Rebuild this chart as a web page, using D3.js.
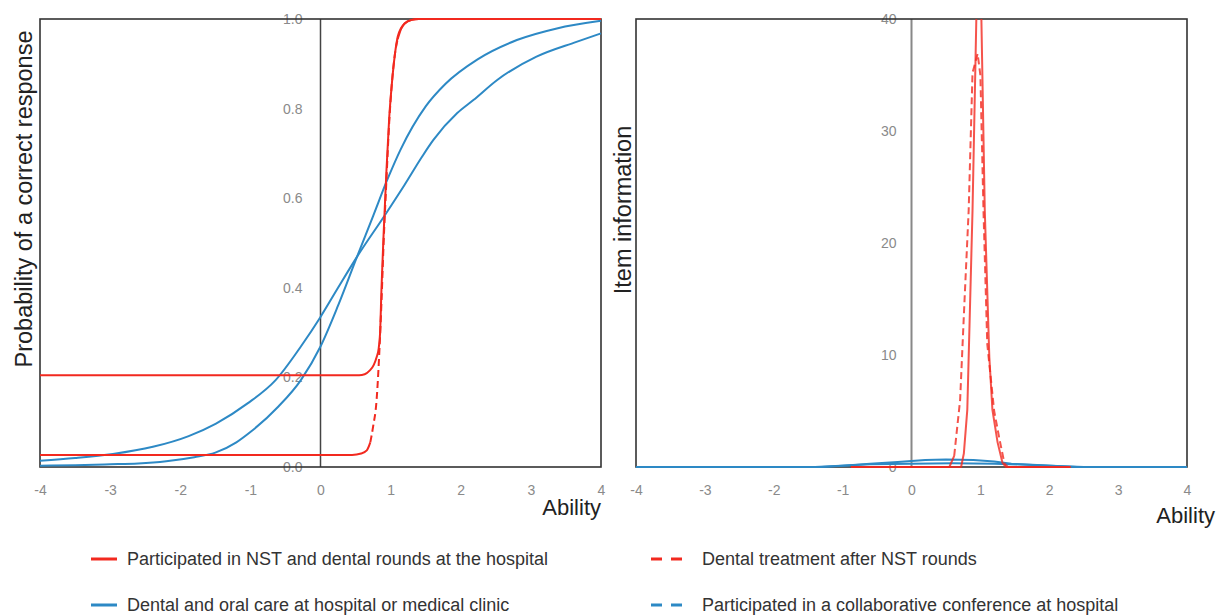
<!DOCTYPE html>
<html><head><meta charset="utf-8">
<script src="https://cdn.jsdelivr.net/npm/d3@7"></script>
<style>
html,body{margin:0;padding:0;background:#fff;}
svg{display:block;font-family:"Liberation Sans",Arial,Helvetica,sans-serif;}
</style></head><body>
<script>
// ---------------- data ----------------
const abilityTicks = [-4, -3, -2, -1, 0, 1, 2, 3, 4];
const probTicks = [0, 0.2, 0.4, 0.6, 0.8, 1.0];
const infoTicks = [0, 10, 20, 30, 40];
const seriesNames = [
  "Participated in NST and dental rounds at the hospital",
  "Dental treatment after NST rounds",
  "Dental and oral care at hospital or medical clinic",
  "Participated in a collaborative conference at hospital"
];

// Left panel: probability of a correct response (ICC)
const iccAbilityNST = [-4, 0.55, 0.63, 0.7, 0.76, 0.8, 0.83, 0.85, 0.87, 0.9, 0.94, 0.98, 1.02, 1.06, 1.1, 1.15, 1.2, 1.3, 1.4, 4];
const iccProbNST    = [0.205, 0.205, 0.207, 0.215, 0.228, 0.245, 0.265, 0.30, 0.40, 0.52, 0.66, 0.78, 0.86, 0.92, 0.96, 0.98, 0.99, 0.998, 1.0, 1.0];

const iccAbilityTreat = [-4, 0.45, 0.58, 0.66, 0.71, 0.75, 0.8, 0.84, 0.87, 0.9, 0.94, 0.98, 1.02, 1.06, 1.1, 1.15, 1.2, 1.3, 1.4, 4];
const iccProbTreat    = [0.027, 0.027, 0.03, 0.037, 0.055, 0.09, 0.15, 0.26, 0.37, 0.50, 0.64, 0.77, 0.86, 0.92, 0.955, 0.978, 0.99, 0.998, 1.0, 1.0];

const iccAbilityCare = [-4, -3.5, -3, -2.6, -2.2, -1.8, -1.5, -1.2, -1.0, -0.6, -0.28, 0, 0.25, 0.52, 0.75, 0.96, 1.14, 1.5, 1.78, 2.24, 2.8, 3.37, 4];
const iccProbCare    = [0.003, 0.004, 0.006, 0.008, 0.013, 0.022, 0.032, 0.055, 0.078, 0.135, 0.194, 0.269, 0.36, 0.469, 0.56, 0.644, 0.708, 0.805, 0.855, 0.91, 0.953, 0.979, 0.996];

const iccAbilityConf = [-4, -3.5, -2.96, -2.39, -1.88, -1.49, -1.04, -0.64, -0.28, 0, 0.25, 0.52, 0.92, 1.2, 1.45, 1.61, 1.95, 2.18, 2.52, 3.08, 3.65, 4];
const iccProbConf    = [0.014, 0.02, 0.029, 0.045, 0.069, 0.097, 0.142, 0.194, 0.269, 0.335, 0.40, 0.469, 0.5625, 0.63, 0.693, 0.73, 0.79, 0.819, 0.864, 0.916, 0.949, 0.968];

// Right panel: item information (IIF)
const iifAbilityNST = [-0.88, 0.72, 0.76, 0.81, 0.886, 0.98, 1.064, 1.13, 1.175, 1.25, 1.32, 1.37, 2.31];
const iifInfoNST    = [0, 0, 1.2, 5.1, 22.9, 52, 22.9, 9.8, 5.1, 2.2, 0.4, 0, 0];

const iifAbilityTreat = [-0.88, 0.55, 0.62, 0.706, 0.77, 0.83, 0.886, 0.96, 1.0, 1.045, 1.1, 1.2, 1.28, 1.35, 1.4, 2.31];
const iifInfoTreat    = [0, 0, 1.0, 6, 14.9, 22.9, 35.2, 36.9, 35, 22.9, 11, 5, 2.4, 0.3, 0, 0];

const iifAbilityCare = [-4, -1.3, -1.0, -0.6, -0.2, 0.2, 0.5, 0.9, 1.2, 1.45, 1.9, 2.4, 4];
const iifInfoCare    = [0, 0, 0.12, 0.3, 0.45, 0.62, 0.66, 0.62, 0.5, 0.3, 0.15, 0, 0];

const iifAbilityConf = [-4, -1.4, -1.1, -0.6, 0, 0.6, 1.2, 1.6, 2.0, 2.5, 4];
const iifInfoConf    = [0, 0, 0.1, 0.25, 0.3, 0.33, 0.3, 0.22, 0.12, 0, 0];

// ---------------- styles ----------------
const RED = "#f2291f", BLUE = "#2d89c5";
const seriesStyle = [
  {color: RED, dashed: false},
  {color: RED, dashed: true},
  {color: BLUE, dashed: false},
  {color: BLUE, dashed: true}
];

const W = 1217, H = 616, TOP = 19, BOTTOM = 467;
const svg = d3.select("body").append("svg").attr("width", W).attr("height", H);
svg.append("rect").attr("width", W).attr("height", H).attr("fill", "#fff");

function drawSeries(g, xs, ys, xS, yS, style, opacity, curve) {
  const pts = xs.map((a, i) => [xS(a), yS(ys[i])]);
  const line = d3.line().curve(curve);
  const common = p => p.attr("fill", "none").attr("stroke", style.color)
      .attr("stroke-width", 2).attr("stroke-opacity", opacity)
      .attr("stroke-linejoin", "round").attr("stroke-linecap", "butt");
  if (!style.dashed) { common(g.append("path").attr("d", line(pts))); return; }
  // dashed strokes only become visible on steep stretches (as in the source renderer)
  const runs = [];
  let cur = [pts[0]], curSteep = null;
  for (let i = 1; i < pts.length; i++) {
    const dx = Math.abs(pts[i][0] - pts[i - 1][0]), dy = Math.abs(pts[i][1] - pts[i - 1][1]);
    const steep = dy > 3 * dx;
    if (curSteep === null) curSteep = steep;
    if (steep !== curSteep) { runs.push({pts: cur, steep: curSteep}); cur = [pts[i - 1]]; curSteep = steep; }
    cur.push(pts[i]);
  }
  runs.push({pts: cur, steep: curSteep});
  runs.forEach(r => {
    const p = common(g.append("path").attr("d", line(r.pts)));
    if (r.steep) p.attr("stroke-dasharray", "7,4");
  });
}

function panel(cfg) {
  const x = d3.scaleLinear().domain([-4, 4]).range([cfg.left, cfg.right]);
  const y = d3.scaleLinear().domain(cfg.yDomain).range([BOTTOM, TOP]);
  const g = svg.append("g");

  // vertical line at ability 0
  g.append("line").attr("x1", x(0)).attr("x2", x(0)).attr("y1", TOP).attr("y2", BOTTOM)
    .attr("stroke", cfg.zeroColor).attr("stroke-width", cfg.zeroWidth);

  // y axis labels at ability 0
  const ya = g.append("g").attr("transform", `translate(${x(0)},0)`)
    .call(d3.axisLeft(y).tickValues(cfg.yTicks).tickSize(0).tickPadding(cfg.yPad).tickFormat(cfg.yFormat));
  ya.select(".domain").remove();
  ya.selectAll("text").attr("fill", "#8a8a8a").attr("font-size", 14).attr("font-family", "Liberation Sans, Arial, sans-serif");

  // x axis labels
  const xa = g.append("g").attr("transform", `translate(0,${BOTTOM})`)
    .call(d3.axisBottom(x).tickValues(abilityTicks).tickSize(0).tickFormat(d => String(d)));
  xa.select(".domain").remove();
  xa.selectAll("text").attr("y", 23).attr("dy", "0.35em").attr("fill", "#8a8a8a")
    .attr("font-size", 14).attr("font-family", "Liberation Sans, Arial, sans-serif");

  // frame
  g.append("rect").attr("x", cfg.left).attr("y", TOP).attr("width", cfg.right - cfg.left)
    .attr("height", BOTTOM - TOP).attr("fill", "none").attr("stroke", "#333").attr("stroke-width", 1.6);

  // clip
  const id = "clip" + cfg.name;
  svg.append("clipPath").attr("id", id).append("rect")
    .attr("x", cfg.left - 2).attr("y", cfg.clipTop).attr("width", cfg.right - cfg.left + 4)
    .attr("height", BOTTOM - cfg.clipTop + 3);
  const lg = g.append("g").attr("clip-path", `url(#${id})`);
  cfg.series.forEach(s => drawSeries(lg, s.xs, s.ys, x, y, seriesStyle[s.k], s.op, cfg.curve));

  // titles
  g.append("text").attr("x", cfg.abilityX).attr("y", cfg.abilityY).attr("text-anchor", "end")
    .attr("font-size", 22).attr("fill", "#222").text("Ability");
  g.append("text").attr("transform", `translate(${cfg.titleX},${cfg.titleY}) rotate(-90)`)
    .attr("text-anchor", "middle").attr("font-size", 23.5).attr("fill", "#222").text(cfg.title);
}

panel({
  name: "L", left: 40, right: 601, yDomain: [0, 1], yTicks: probTicks, yPad: 18,
  yFormat: d3.format(".1f"), zeroColor: "#444", zeroWidth: 1.5, clipTop: 16,
  abilityX: 601, abilityY: 515, titleX: 32, titleY: 199, curve: d3.curveMonotoneX,
  title: "Probability of a correct response",
  series: [
    {xs: iccAbilityConf, ys: iccProbConf, k: 3, op: 1},
    {xs: iccAbilityCare, ys: iccProbCare, k: 2, op: 1},
    {xs: iccAbilityTreat, ys: iccProbTreat, k: 1, op: 1},
    {xs: iccAbilityNST, ys: iccProbNST, k: 0, op: 1}
  ]
});

panel({
  name: "R", left: 636, right: 1187, yDomain: [0, 40], yTicks: infoTicks, yPad: 15,
  yFormat: d3.format("d"), zeroColor: "#888", zeroWidth: 2, clipTop: TOP,
  abilityX: 1215, abilityY: 523, titleX: 631, titleY: 210, curve: d3.curveLinear,
  title: "Item information",
  series: [
    {xs: iifAbilityConf, ys: iifInfoConf, k: 3, op: 1},
    {xs: iifAbilityCare, ys: iifInfoCare, k: 2, op: 1},
    {xs: iifAbilityTreat, ys: iifInfoTreat, k: 1, op: 0.8},
    {xs: iifAbilityNST, ys: iifInfoNST, k: 0, op: 0.8}
  ]
});

// legend
const legendPos = [[91, 559], [651, 559], [91, 605], [651, 605]];
const leg = svg.append("g");
seriesNames.forEach((name, i) => {
  const [lx, ly] = legendPos[i];
  const st = seriesStyle[i];
  const ln = leg.append("line").attr("x1", lx).attr("x2", lx + (st.dashed ? 31 : 26))
    .attr("y1", ly).attr("y2", ly).attr("stroke", st.color).attr("stroke-width", 3);
  if (st.dashed) ln.attr("stroke-dasharray", "11,9");
  leg.append("text").attr("x", lx + (st.dashed ? 51 : 36)).attr("y", ly).attr("dy", "0.35em")
    .attr("font-size", 18).attr("fill", "#333").text(name);
});
</script>
</body></html>
